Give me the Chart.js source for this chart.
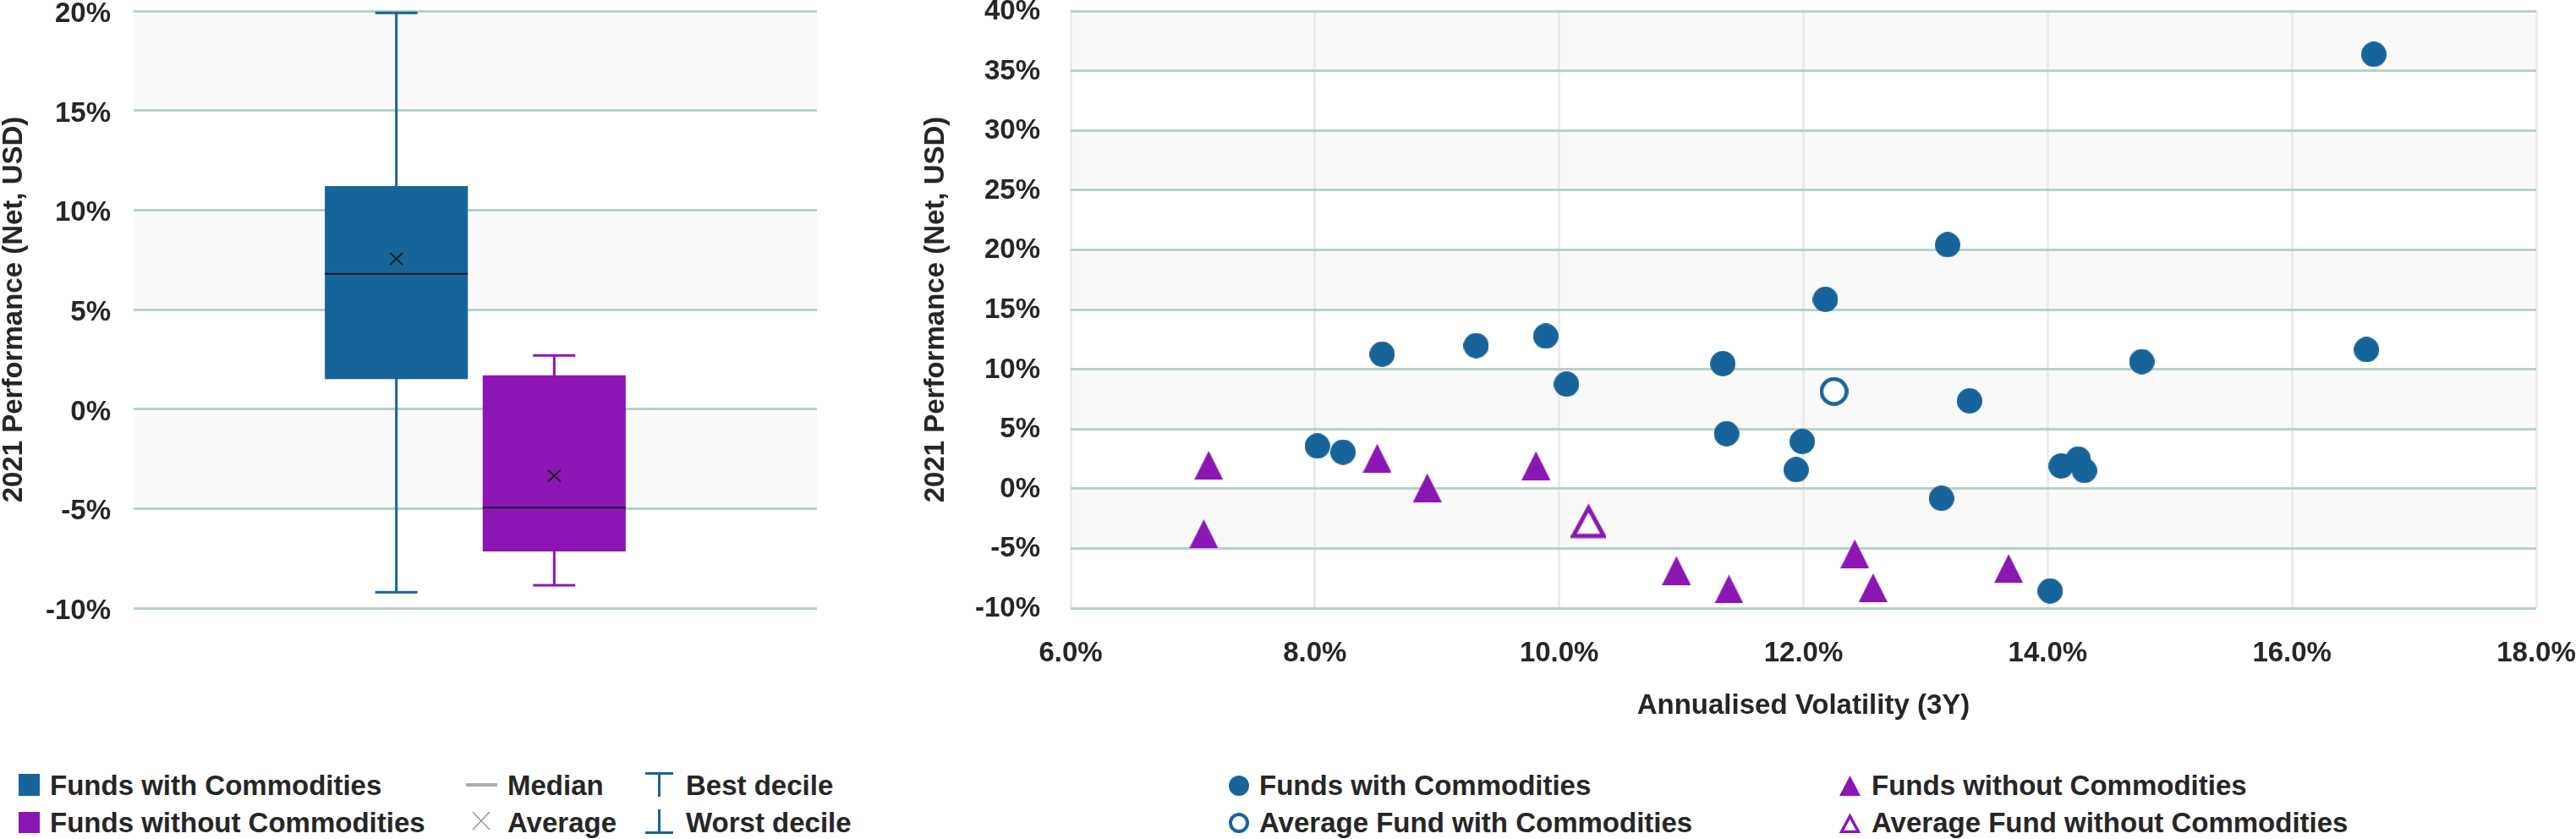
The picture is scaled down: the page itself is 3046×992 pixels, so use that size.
<!DOCTYPE html>
<html lang="en">
  <head>
    <meta charset="UTF-8" />
    <title>2021 Performance - Funds with and without Commodities</title>
    <script src="https://cdn.jsdelivr.net/npm/chart.js"></script>
    <style>
      body {
        margin: 0;
        width: 3046px;
        height: 992px;
        position: relative;
        overflow: hidden;
        background: #fff;
        font-family: "Liberation Sans", Arial, sans-serif;
        font-weight: bold;
        color: #262626;
      }
      canvas { position: absolute; top: 0; }
      .leg {
        position: absolute;
        font-size: 33px;
        line-height: 33px;
        white-space: nowrap;
      }
      .ico { position: absolute; display: block; }
    </style>
  </head>
  <body>
    <canvas id="boxChart" width="1000" height="760" style="left: 0"></canvas>
    <canvas id="scatterChart" width="1956" height="870" style="left: 1090px"></canvas>

    <!-- legend box plot -->
    <div class="ico" style="left: 22px; top: 915px; width: 25px; height: 26px; background: #17649a"></div>
    <div class="leg" style="left: 59px; top: 912px">Funds with Commodities</div>
    <div class="ico" style="left: 22px; top: 960px; width: 25px; height: 25px; background: #8c16b4"></div>
    <div class="leg" style="left: 59px; top: 956px">Funds without Commodities</div>

    <svg class="ico" style="left: 551px; top: 925px" width="37" height="6">
      <line x1="0" y1="3" x2="37" y2="3" stroke="#a9b1b0" stroke-width="4" />
    </svg>
    <div class="leg" style="left: 600px; top: 912px">Median</div>
    <svg class="ico" style="left: 558px; top: 959px" width="22" height="23">
      <path d="M1 1 L21 22 M21 1 L1 22" stroke="#9a9a9a" stroke-width="1.6" fill="none" />
    </svg>
    <div class="leg" style="left: 600px; top: 956px">Average</div>

    <svg class="ico" style="left: 763px; top: 913px" width="33" height="29">
      <path d="M0 1.5 H33 M16.5 0 V29" stroke="#17649a" stroke-width="3" fill="none" />
    </svg>
    <div class="leg" style="left: 811px; top: 912px">Best decile</div>
    <svg class="ico" style="left: 763px; top: 957px" width="33" height="29">
      <path d="M0 27.5 H33 M16.5 0 V29" stroke="#17649a" stroke-width="3" fill="none" />
    </svg>
    <div class="leg" style="left: 811px; top: 956px">Worst decile</div>

    <!-- legend scatter -->
    <svg class="ico" style="left: 1453px; top: 917px" width="24" height="24">
      <circle cx="12" cy="12" r="12" fill="#17649a" />
    </svg>
    <div class="leg" style="left: 1489px; top: 912px">Funds with Commodities</div>
    <svg class="ico" style="left: 1453px; top: 961px" width="24" height="24">
      <circle cx="12" cy="12" r="10" fill="#fff" stroke="#17649a" stroke-width="4" />
    </svg>
    <div class="leg" style="left: 1489px; top: 956px">Average Fund with Commodities</div>

    <svg class="ico" style="left: 2175px; top: 917px" width="25" height="24">
      <polygon points="12.5,0 25,24 0,24" fill="#8c16b4" />
    </svg>
    <div class="leg" style="left: 2213px; top: 912px">Funds without Commodities</div>
    <svg class="ico" style="left: 2175px; top: 961px" width="25" height="24">
      <polygon points="12.5,4 22.5,22.5 2.5,22.5" fill="#fff" stroke="#8c16b4" stroke-width="3.5" />
    </svg>
    <div class="leg" style="left: 2213px; top: 956px">Average Fund without Commodities</div>

    <script>
      // box plot: 2021 performance (%), funds with / without commodities
      const boxNames = ["Funds with Commodities", "Funds without Commodities"];
      const bestDecile = [19.9, 2.7];
      const upperQuartile = [11.2, 1.7];
      const medians = [6.8, -4.95];
      const averages = [7.55, -3.35];
      const lowerQuartile = [1.5, -7.15];
      const worstDecile = [-9.2, -8.85];

      // scatter: annualised volatility 3Y (%) vs 2021 performance (%)
      const withVol = [8.02, 8.23, 8.55, 9.32, 9.89, 10.06, 11.34, 11.37, 11.94, 11.99, 12.18, 13.13, 13.18, 13.36, 14.02, 14.11, 14.25, 14.3, 14.77, 16.61, 16.67];
      const withPerf = [3.57, 3.06, 11.26, 11.98, 12.77, 8.75, 10.47, 4.6, 1.58, 3.95, 15.85, -0.81, 20.42, 7.35, -8.57, 1.9, 2.48, 1.52, 10.64, 11.64, 36.37];
      const withoutVol = [7.09, 7.13, 8.51, 8.92, 9.81, 10.96, 11.39, 12.42, 12.57, 13.68];
      const withoutPerf = [-3.77, 1.96, 2.55, 0.08, 1.93, -6.85, -8.4, -5.45, -8.29, -6.68];
      const avgWith = [12.25, 8.14];
      const avgWithout = [10.24, -2.67];

      const boxYTicks = { min: -10, max: 20, step: 5 };
      const scatterYTicks = { min: -10, max: 40, step: 5 };
      const scatterXTicks = { min: 6, max: 18, step: 2 };

      const BLUE = "#17649a";
      const PURPLE = "#8c16b4";
      const TEAL = "#b6d2ca";
      const VGRID = "#efe9e9";
      const BAND = "#f9f9f9";
      const TEXT = "#262626";
      const FONT = { family: "'Liberation Sans', Arial, sans-serif", size: 33, weight: "bold" };

      // alternate light grey bands behind the horizontal grid
      const bandPlugin = {
        id: "bands",
        beforeDraw(chart) {
          const { ctx, chartArea: a, scales } = chart;
          const y = scales.y;
          const vals = y.ticks.map((t) => t.value);
          ctx.save();
          ctx.fillStyle = BAND;
          for (let i = 0; i < vals.length - 1; i++) {
            const lo = Math.min(vals[i], vals[i + 1]);
            const hi = Math.max(vals[i], vals[i + 1]);
            if (((hi % 10) + 10) % 10 !== 0) continue;
            const top = y.getPixelForValue(hi);
            const bot = y.getPixelForValue(lo);
            ctx.fillRect(a.left, top, a.right - a.left, bot - top);
          }
          ctx.restore();
        },
      };

      // whiskers, median and average marks for the floating bars
      const boxExtras = {
        id: "boxExtras",
        beforeDatasetsDraw(chart) {
          const { ctx } = chart;
          const y = chart.scales.y;
          boxNames.forEach((n, i) => {
            const bar = chart.getDatasetMeta(i).data[0];
            const cx = bar.x;
            const yTop = y.getPixelForValue(bestDecile[i]);
            const yBot = y.getPixelForValue(worstDecile[i]);
            ctx.save();
            ctx.strokeStyle = i === 0 ? BLUE : PURPLE;
            ctx.lineWidth = 3;
            ctx.beginPath();
            ctx.moveTo(cx, yTop);
            ctx.lineTo(cx, yBot);
            ctx.moveTo(cx - 25, yTop);
            ctx.lineTo(cx + 25, yTop);
            ctx.moveTo(cx - 25, yBot);
            ctx.lineTo(cx + 25, yBot);
            ctx.stroke();
            ctx.restore();
          });
        },
        afterDatasetsDraw(chart) {
          const { ctx } = chart;
          const y = chart.scales.y;
          boxNames.forEach((n, i) => {
            const bar = chart.getDatasetMeta(i).data[0];
            const cx = bar.x;
            const half = bar.width / 2;
            const ym = y.getPixelForValue(medians[i]);
            const ya = y.getPixelForValue(averages[i]);
            ctx.save();
            ctx.strokeStyle = "#1c1c1c";
            ctx.lineWidth = 2;
            ctx.beginPath();
            ctx.moveTo(cx - half, ym);
            ctx.lineTo(cx + half, ym);
            ctx.stroke();
            ctx.lineWidth = 1.8;
            ctx.beginPath();
            ctx.moveTo(cx - 7.5, ya - 7);
            ctx.lineTo(cx + 7.5, ya + 7);
            ctx.moveTo(cx + 7.5, ya - 7);
            ctx.lineTo(cx - 7.5, ya + 7);
            ctx.stroke();
            ctx.restore();
          });
        },
      };

      // marker images (so the point radius does not pad the chart area)
      function triangleMarker(size, fill, stroke, lw) {
        const c = document.createElement("canvas");
        c.width = size;
        c.height = size;
        const g = c.getContext("2d");
        const p = lw ? lw * 0.6 : 0;
        g.beginPath();
        g.moveTo(size / 2, lw ? lw * 1.2 : 0);
        g.lineTo(size - p, size - p);
        g.lineTo(p, size - p);
        g.closePath();
        g.fillStyle = fill;
        g.fill();
        if (lw) {
          g.lineJoin = "miter";
          g.lineWidth = lw;
          g.strokeStyle = stroke;
          g.stroke();
        }
        return c;
      }

      function circleMarker(size, fill, stroke, lw) {
        const c = document.createElement("canvas");
        c.width = size;
        c.height = size;
        const g = c.getContext("2d");
        g.beginPath();
        g.arc(size / 2, size / 2, size / 2 - (lw ? lw / 2 : 0), 0, Math.PI * 2);
        g.fillStyle = fill;
        g.fill();
        if (lw) {
          g.lineWidth = lw;
          g.strokeStyle = stroke;
          g.stroke();
        }
        return c;
      }

      const yTitle = {
        display: true,
        text: "2021 Performance (Net, USD)",
        color: TEXT,
        font: { ...FONT, lineHeight: 1 },
        padding: 0,
      };

      new Chart(document.getElementById("boxChart"), {
        type: "bar",
        data: {
          labels: [""],
          datasets: boxNames.map((name, i) => ({
            label: name,
            data: [[lowerQuartile[i], upperQuartile[i]]],
            backgroundColor: i === 0 ? BLUE : PURPLE,
            borderWidth: 0,
            borderSkipped: false,
            categoryPercentage: 0.462,
            barPercentage: 0.906,
          })),
        },
        options: {
          responsive: false,
          animation: false,
          events: [],
          layout: { padding: { top: 13, right: 34, bottom: 41, left: 0 } },
          plugins: { legend: { display: false }, tooltip: { enabled: false } },
          scales: {
            x: { display: false },
            y: {
              min: boxYTicks.min,
              max: boxYTicks.max,
              ticks: {
                stepSize: boxYTicks.step,
                callback: (v) => v + "%",
                color: TEXT,
                font: FONT,
                padding: 27,
                labelOffset: 4,
              },
              grid: { color: TEAL, lineWidth: 3, drawTicks: false },
              border: { display: false },
              title: yTitle,
              afterFit: (s) => {
                s.width = 158;
                s.paddingTop = 0;
                s.paddingBottom = 0;
              },
            },
          },
        },
        plugins: [bandPlugin, boxExtras],
      });

      const toPoints = (xs, ys) => xs.map((x, i) => ({ x, y: ys[i] }));
      const markerOpts = { pointRadius: 1, pointHoverRadius: 0, borderWidth: 0 };

      new Chart(document.getElementById("scatterChart"), {
        type: "scatter",
        data: {
          datasets: [
            {
              label: "Funds with Commodities",
              data: toPoints(withVol, withPerf),
              pointStyle: circleMarker(30, BLUE),
              ...markerOpts,
            },
            {
              label: "Average Fund with Commodities",
              data: [{ x: avgWith[0], y: avgWith[1] }],
              pointStyle: circleMarker(34, "#fff", BLUE, 4.5),
              ...markerOpts,
            },
            {
              label: "Funds without Commodities",
              data: toPoints(withoutVol, withoutPerf),
              pointStyle: triangleMarker(34, PURPLE),
              ...markerOpts,
            },
            {
              label: "Average Fund without Commodities",
              data: [{ x: avgWithout[0], y: avgWithout[1] }],
              pointStyle: triangleMarker(42, "#fff", PURPLE, 5),
              ...markerOpts,
            },
          ],
        },
        options: {
          responsive: false,
          animation: false,
          events: [],
          layout: { padding: { top: 13, right: 47, bottom: 0, left: 0 } },
          plugins: { legend: { display: false }, tooltip: { enabled: false } },
          scales: {
            x: {
              type: "linear",
              min: scatterXTicks.min,
              max: scatterXTicks.max,
              ticks: {
                stepSize: scatterXTicks.step,
                callback: (v) => v.toFixed(1) + "%",
                color: TEXT,
                font: FONT,
                padding: 34,
              },
              grid: { color: VGRID, lineWidth: 3, drawTicks: false },
              border: { display: false },
              title: {
                display: true,
                text: "Annualised Volatility (3Y)",
                color: TEXT,
                font: { ...FONT, lineHeight: 1.2 },
                padding: { top: 0, bottom: 15 },
              },
              afterFit: (s) => {
                s.height = 151;
                s.paddingLeft = 0;
                s.paddingRight = 0;
              },
            },
            y: {
              min: scatterYTicks.min,
              max: scatterYTicks.max,
              ticks: {
                stepSize: scatterYTicks.step,
                callback: (v) => v + "%",
                color: TEXT,
                font: FONT,
                padding: 36,
                labelOffset: 1,
              },
              grid: { color: TEAL, lineWidth: 3, drawTicks: false },
              border: { display: false },
              title: yTitle,
              afterFit: (s) => {
                s.width = 176;
                s.paddingTop = 0;
                s.paddingBottom = 0;
              },
            },
          },
        },
        plugins: [bandPlugin],
      });
    </script>
  </body>
</html>
